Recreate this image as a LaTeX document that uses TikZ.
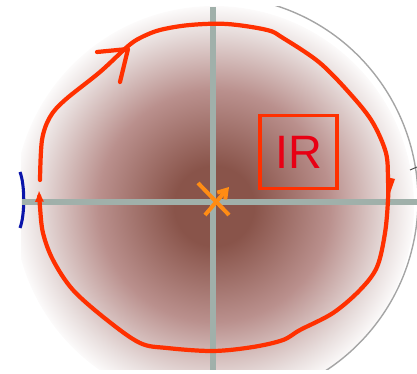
\documentclass[tikz,border=0pt]{standalone}
\usepackage{fontspec}
\setsansfont{Liberation Sans}
\usepackage{xcolor}
\usetikzlibrary{arrows.meta,positioning}
\definecolor{glowcore}{RGB}{137,84,74}
\definecolor{glowmid}{RGB}{186,144,141}
\definecolor{glowpale}{RGB}{232,222,221}
\definecolor{axisgray}{RGB}{160,176,170}
\definecolor{loopred}{RGB}{255,48,0}
\definecolor{textred}{RGB}{232,0,20}
\definecolor{poleorange}{RGB}{255,140,20}
\definecolor{rimgray}{RGB}{165,165,165}
\definecolor{edgeblue}{RGB}{10,20,170}
\pgfdeclareradialshading{irglow}{\pgfpoint{0bp}{0bp}}{color(0bp)=(glowcore); color(5bp)=(glowcore); color(14.5bp)=(glowmid); color(22bp)=(glowpale); color(25.5bp)=(white); color(50bp)=(white)}

\begin{document}
\begin{tikzpicture}[
  x=0.03cm, y=-0.03cm,
  axis/.style={draw=axisgray, line width=5pt},
  contour/.style={draw=loopred, line width=3.6pt, line cap=round, line join=round},
  irbox/.style={rectangle, draw=loopred, line width=3pt, minimum width=77*0.03cm,
                minimum height=73*0.03cm, inner sep=0pt, text=textred,
                font=\sffamily\fontsize{40}{40}\selectfont},
  pole/.style={draw=poleorange, line width=3.4pt}
]
\useasboundingbox (0,0) rectangle (417,374);
\begin{scope}
  \clip (21,7) rectangle (417,370);
  \shade[shading=irglow] (214,206) circle (200);
  \draw[rimgray, line width=1.2pt] (214,200) ++(-75:204) arc[start angle=-75, end angle=75, radius=204];
\end{scope}
\draw[edgeblue, line width=2.6pt] (20,172) .. controls (25,185) and (25,215) .. (20,228);
\draw[black!70, line width=0.8pt] (410,170) -- (417,167);
\coordinate (top) at (213,7);
\coordinate (bottom) at (213,370);
\coordinate (west) at (22,202);
\coordinate (east) at (417,202);
\draw[axis] (top) -- (bottom);
\draw[axis] (west) -- (east);
\node[irbox] (ir) at (298.5,152) {IR};
\draw[contour, -{Latex[length=10pt, width=8pt]}] plot[smooth, tension=0.55] coordinates {
  (40,180) (42,140) (50,117) (65,100) (100,72) (127,47) (140,38) (160,30)
  (190,25) (227,24) (267,30) (283,38) (320,63) (353,97) (373,123) (386,153)
  (388,180) (388,200) (385,233) (377,267) (360,290) (333,313) (300,330)
  (283,340) (253,347) (213,351) (167,348) (140,343) (107,320) (73,290)
  (53,260) (43,233) (40,207) (39,190)};
\coordinate (tipA) at (128,49);
\draw[contour] (97,52) -- (tipA) -- (120,82);
\fill[loopred] (386,177) -- (395,179) -- (390,193) -- cycle;
\coordinate (poleA) at (198,183);
\coordinate (poleB) at (229,215);
\coordinate (poleC) at (205,215);
\coordinate (poleD) at (229,187);
\draw[pole] (poleA) -- (poleB);
\draw[pole, -{Straight Barb[length=7pt, width=9pt]}] (poleC) -- (poleD);
\end{tikzpicture}
\end{document}
